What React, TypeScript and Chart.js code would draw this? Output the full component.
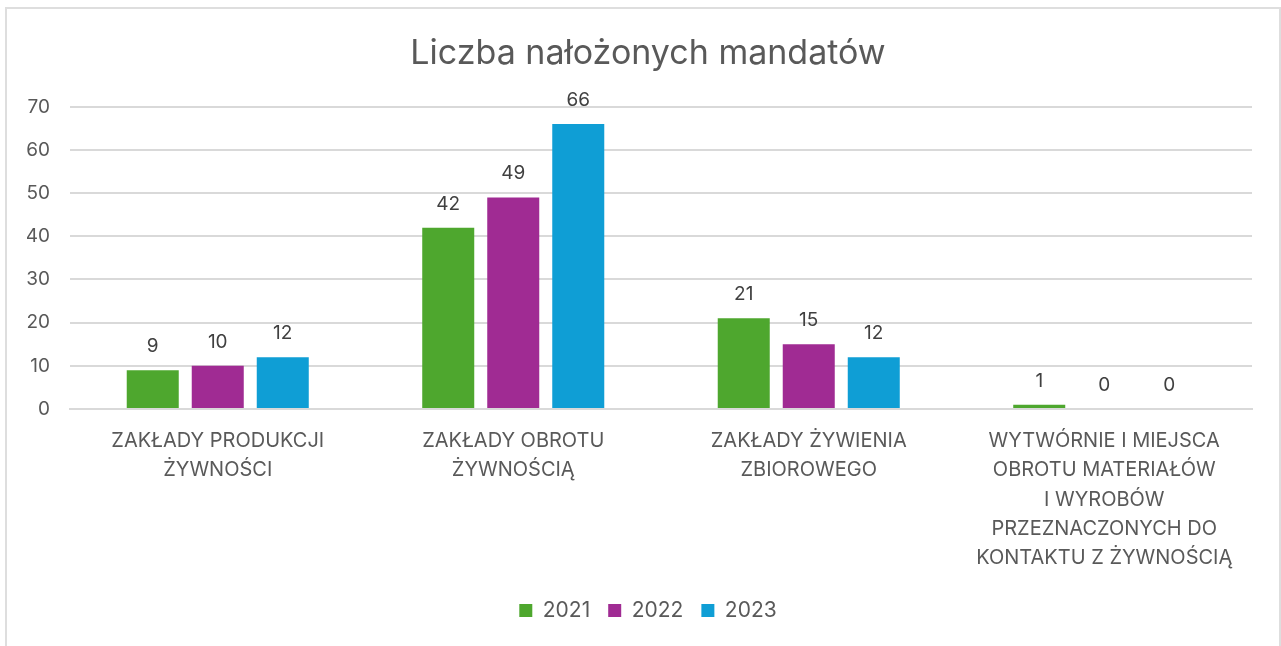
import React, { useEffect, useRef } from "react";
import { Chart, registerables } from "chart.js";

Chart.register(...registerables);

const categories: string[][] = [
  ["ZAKŁADY PRODUKCJI", "ŻYWNOŚCI"],
  ["ZAKŁADY OBROTU", "ŻYWNOŚCIĄ"],
  ["ZAKŁADY ŻYWIENIA", "ZBIOROWEGO"],
  ["WYTWÓRNIE I MIEJSCA", "OBROTU MATERIAŁÓW", "I WYROBÓW", "PRZEZNACZONYCH DO", "KONTAKTU Z ŻYWNOŚCIĄ"],
];
const seriesNames = ["2021", "2022", "2023"];
const values2021 = [9, 42, 21, 1];
const values2022 = [10, 49, 15, 0];
const values2023 = [12, 66, 12, 0];
const colors = ["#4EA72E", "#A02B93", "#0F9ED5"];
const title = "Liczba nałożonych mandatów";

const FONT = "Inter, 'Open Sans', sans-serif";
const TEXT = "#595959";

const valueLabels = {
  id: "valueLabels",
  afterDatasetsDraw(chart: any) {
    const ctx = chart.ctx;
    ctx.save();
    ctx.font = `19px ${FONT}`;
    ctx.fillStyle = "#404040";
    ctx.textAlign = "center";
    ctx.textBaseline = "alphabetic";
    chart.data.datasets.forEach((ds: any, i: number) => {
      const meta = chart.getDatasetMeta(i);
      meta.data.forEach((bar: any, j: number) => {
        ctx.fillText(String(ds.data[j]), bar.x, bar.y - 18);
      });
    });
    ctx.restore();
  },
};

export default function App() {
  const ref = useRef<HTMLCanvasElement>(null);
  useEffect(() => {
    if (!ref.current) return;
    const data = [values2021, values2022, values2023];
    const chart = new Chart(ref.current, {
      type: "bar",
      data: {
        labels: categories,
        datasets: seriesNames.map((n, i) => ({
          label: n,
          data: data[i],
          backgroundColor: colors[i],
          borderWidth: 0,
          categoryPercentage: 0.66,
          barPercentage: 0.8,
          yAxisID: "y",
        })),
      },
      options: {
        animation: false,
        responsive: true,
        maintainAspectRatio: false,
        layout: { padding: { left: 20, right: 10, top: 0, bottom: 15 } },
        plugins: {
          title: {
            display: true,
            text: title,
            color: TEXT,
            font: { family: FONT, size: 34, weight: "normal" },
            padding: { top: 24, bottom: 33 },
          },
          legend: {
            position: "bottom",
            labels: {
              color: TEXT,
              font: { family: FONT, size: 21 },
              boxWidth: 13,
              boxHeight: 13,
              padding: 18,
            },
          },
          tooltip: { enabled: false },
        },
        scales: {
          x: {
            grid: { display: false },
            border: { display: true, color: "#d9d9d9", width: 2 },
            ticks: {
              color: TEXT,
              font: { family: FONT, size: 20, lineHeight: 1.47 },
              maxRotation: 0,
              autoSkip: false,
              padding: 9,
            },
          },
          y: {
            min: 0,
            max: 70,
            grid: { color: "#d9d9d9", lineWidth: 2, drawTicks: false },
            border: { display: false },
            ticks: {
              stepSize: 10,
              color: TEXT,
              font: { family: FONT, size: 19 },
              padding: 20,
            },
            afterFit: (scale: any) => {
              scale.width = 43;
            },
          },
          yRight: {
            type: "linear",
            position: "right",
            min: 0,
            max: 70,
            grid: { display: false, drawTicks: false },
            border: { display: false },
            ticks: { display: false },
            afterFit: (scale: any) => {
              scale.width = 17;
            },
          },
        },
      },
      plugins: [valueLabels],
    });
    return () => chart.destroy();
  }, []);
  return (
    <div
      style={{
        position: "absolute",
        left: 5,
        top: 7,
        width: 1272,
        height: 660,
        border: "2px solid #dedede",
        background: "#fff",
      }}
    >
      <div style={{ position: "relative", width: 1272, height: 637 }}>
        <canvas ref={ref} />
      </div>
    </div>
  );
}
